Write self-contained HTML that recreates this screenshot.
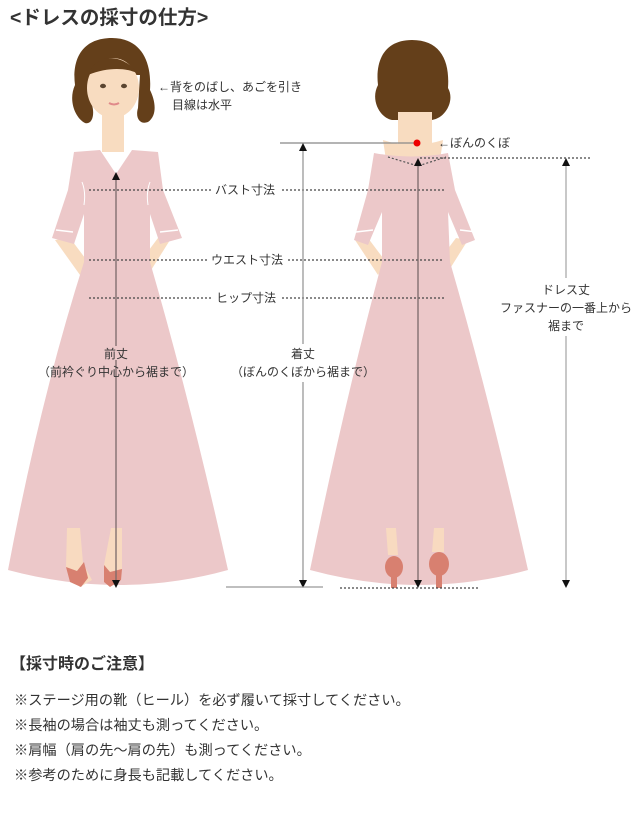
<!DOCTYPE html>
<html><head><meta charset="utf-8"><style>
html,body{margin:0;padding:0;background:#fff;width:644px;height:813px;overflow:hidden}
svg{display:block}
text{font-family:"Liberation Sans","Noto Sans CJK JP",sans-serif;fill:#333}
</style></head><body>
<svg width="644" height="813" viewBox="0 0 644 813">
<defs>
<marker id="ah" markerWidth="8" markerHeight="8" refX="4" refY="4" orient="auto-start-reverse" markerUnits="userSpaceOnUse"><path d="M0,0 L8,4 L0,8 z" fill="#111"/></marker>
</defs>
<text x="10" y="24" font-size="19.5" font-weight="bold" fill="#222">&lt;ドレスの採寸の仕方&gt;</text>

<!-- FRONT FIGURE -->
<g>
<path d="M112,38 C80,38 72,62 75,85 C68,100 75,118 85,123 C92,125 95,115 92,105 L92,75 L140,75 L138,108 C135,118 140,125 148,122 C158,115 155,100 150,90 C152,60 140,38 112,38 z" fill="#643f1a"/>
<ellipse cx="113" cy="88" rx="26" ry="30" fill="#f8dcc0"/>
<path d="M88,75 C95,55 120,50 140,75 C130,68 110,66 88,75 z" fill="#643f1a"/>
<ellipse cx="103" cy="86" rx="3" ry="2.2" fill="#5a4530"/>
<ellipse cx="124" cy="86" rx="3" ry="2.2" fill="#5a4530"/>
<path d="M109,103 Q114,106 119,103" stroke="#e08a8a" stroke-width="2" fill="none"/>
<rect x="102" y="112" width="22" height="40" fill="#f8dcc0"/>
<path d="M55,240 L80,275 L88,262 L70,238 z" fill="#f8dcc0"/>
<path d="M170,240 L148,275 L140,262 L158,238 z" fill="#f8dcc0"/>
<path d="M74,152 L100,150 L116,174 L132,150 L158,152 L163,190 L182,238 L160,244 L150,214 L150,262 Q190,400 228,570 Q120,600 8,570 Q40,400 84,262 L84,214 L74,244 L52,238 L68,190 z" fill="#ecc8c9"/>
<path d="M56,230 L73,232 M160,232 L178,230" stroke="#fff" stroke-width="1.5"/>
<path d="M82,182 Q86,192 84,205 M150,182 Q146,192 148,205" stroke="#fff" stroke-width="1" fill="none"/>
<path d="M67,528 L80,528 L83,563 L92,580 L80,587 L70,578 L66,567 z" fill="#f8dac0"/>
<path d="M66,567 L77,571 L84,562 L88,578 L81,587 L70,582 z" fill="#d88070"/>
<path d="M111,528 L122,528 L122,569 L110,572 L104,565 z" fill="#f8dac0"/>
<path d="M104,565 L110,572 L122,569 L121,580 L110,587 L104,582 z" fill="#d88070"/>
</g>

<!-- BACK FIGURE -->
<g>
<path d="M412,40 C385,40 375,60 378,85 C370,100 380,118 392,120 L432,120 C446,118 455,100 448,88 C450,60 440,40 412,40 z" fill="#643f1a"/>
<rect x="398" y="112" width="34" height="45" fill="#f8dcc0"/>
<path d="M383,140 Q412,150 443,140 L440,160 L386,160 z" fill="#f8dcc0"/>
<path d="M355,240 L378,275 L386,262 L368,238 z" fill="#f8dcc0"/>
<path d="M468,240 L446,275 L438,262 L456,238 z" fill="#f8dcc0"/>
<path d="M374,153 Q412,160 448,153 L455,190 L475,240 L462,245 L448,212 L450,262 Q490,400 528,570 Q420,600 310,570 Q345,400 382,262 L382,212 L368,245 L354,240 L368,190 z" fill="#ecc8c9"/>
<path d="M356,232 L373,230 M460,230 L477,232" stroke="#fff" stroke-width="1.5"/>
<path d="M388,157 L418,166 L446,157" stroke="#555" stroke-width="1.2" stroke-dasharray="2,2" fill="none"/>
<path d="M386,528 L396,528 L398,555 L388,555 z" fill="#f8dac0"/>
<ellipse cx="394" cy="567" rx="9" ry="11" fill="#d88070"/>
<rect x="391" y="575" width="6" height="13" fill="#d88070"/>
<path d="M434,528 L444,528 L444,552 L432,552 z" fill="#f8dac0"/>
<ellipse cx="439" cy="564" rx="10" ry="12" fill="#d88070"/>
<rect x="436" y="572" width="6" height="16" fill="#d88070"/>
</g>

<g stroke="#444" stroke-width="1.3" stroke-dasharray="2,2">
<line x1="89" y1="190" x2="212" y2="190"/><line x1="282" y1="190" x2="444" y2="190"/>
<line x1="89" y1="260" x2="207" y2="260"/><line x1="288" y1="260" x2="444" y2="260"/>
<line x1="89" y1="298" x2="212" y2="298"/><line x1="282" y1="298" x2="444" y2="298"/>
<line x1="420" y1="158" x2="590" y2="158"/>
<line x1="340" y1="588" x2="478" y2="588"/>
</g>
<line x1="116" y1="176" x2="116" y2="584" stroke="#7a6a6a" stroke-width="1.3" marker-start="url(#ah)" marker-end="url(#ah)"/>
<line x1="280" y1="143" x2="417" y2="143" stroke="#888" stroke-width="1.3"/>
<line x1="303" y1="147" x2="303" y2="344" stroke="#999" stroke-width="1.3" marker-start="url(#ah)"/>
<line x1="303" y1="382" x2="303" y2="584" stroke="#999" stroke-width="1.3" marker-end="url(#ah)"/>
<line x1="226" y1="587" x2="323" y2="587" stroke="#999" stroke-width="1.3"/>
<line x1="418" y1="162" x2="418" y2="584" stroke="#7a6a6a" stroke-width="1.3" marker-start="url(#ah)" marker-end="url(#ah)"/>
<line x1="566" y1="162" x2="566" y2="278" stroke="#aaa" stroke-width="1.3" marker-start="url(#ah)"/>
<line x1="566" y1="336" x2="566" y2="584" stroke="#aaa" stroke-width="1.3" marker-end="url(#ah)"/>
<circle cx="417" cy="143" r="3.5" fill="#e00"/>

<g font-size="12" text-anchor="middle">
<text x="245" y="194">バスト寸法</text>
<text x="247" y="264">ウエスト寸法</text>
<text x="246" y="302">ヒップ寸法</text>
<rect x="100" y="346" width="32" height="14" fill="#ecc8c9"/>
<text x="116" y="358">前丈</text>
<text x="116" y="376">（前衿ぐり中心から裾まで）</text>
<text x="303" y="358">着丈</text>
<text x="303" y="376">（ぼんのくぼから裾まで）</text>
<text x="566" y="294">ドレス丈</text>
<text x="566" y="312">ファスナーの一番上から</text>
<text x="566" y="330">裾まで</text>
</g>
<g font-size="12">
<text x="158" y="91">←背をのばし、あごを引き</text>
<text x="172" y="109">目線は水平</text>
<text x="438" y="147">←ぼんのくぼ</text>
</g>

<text x="10" y="669" font-size="16" font-weight="bold" fill="#222">【採寸時のご注意】</text>
<g font-size="14.2">
<text x="14" y="705">※ステージ用の靴（ヒール）を必ず履いて採寸してください。</text>
<text x="14" y="730">※長袖の場合は袖丈も測ってください。</text>
<text x="14" y="755">※肩幅（肩の先～肩の先）も測ってください。</text>
<text x="14" y="780">※参考のために身長も記載してください。</text>
</g>
</svg>
</body></html>
